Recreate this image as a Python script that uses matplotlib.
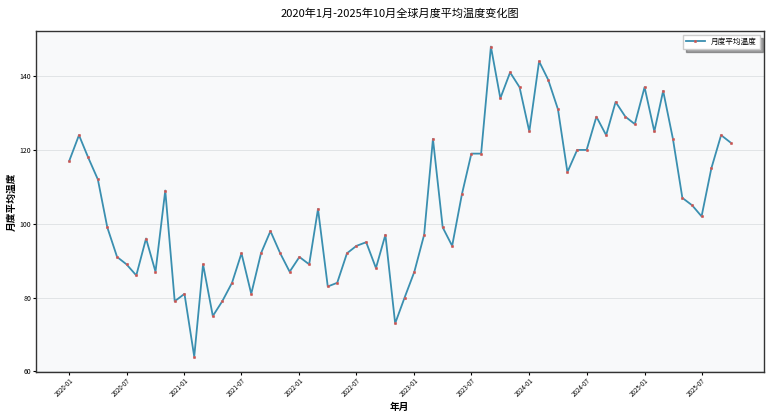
import numpy as np
import pandas as pd
import matplotlib
matplotlib.use('Agg')
import matplotlib.pyplot as plt
import matplotlib.dates as mdates

plt.rcParams['font.family'] = ['Noto Sans CJK SC', 'DejaVu Sans']
plt.rcParams['axes.unicode_minus'] = False

# 月度数据 2020-01 .. 2025-10
months = pd.date_range('2020-01-01', '2025-10-01', freq='MS')
temp_2020 = [117, 124, 118, 112, 99, 91, 89, 86, 96, 87, 109, 79]
temp_2021 = [81, 64, 89, 75, 79, 84, 92, 81, 92, 98, 92, 87]
temp_2022 = [91, 89, 104, 83, 84, 92, 94, 95, 88, 97, 73, 80]
temp_2023 = [87, 97, 123, 99, 94, 108, 119, 119, 148, 134, 141, 137]
temp_2024 = [125, 144, 139, 131, 114, 120, 120, 129, 124, 133, 129, 127]
temp_2025 = [137, 125, 136, 123, 107, 105, 102, 115, 124, 122]
temps = temp_2020 + temp_2021 + temp_2022 + temp_2023 + temp_2024 + temp_2025

fig, ax = plt.subplots(figsize=(7.69, 4.2), dpi=100)
fig.subplots_adjust(left=0.047, right=0.993, top=0.926, bottom=0.114)

ax.set_facecolor('#f8f9fa')
ax.plot(months, temps, color='#3a8fb0', linewidth=1.3, marker='o',
        markersize=1.8, markerfacecolor='#d0504c', markeredgecolor='#c86a68',
        markeredgewidth=0.4, label='月度平均温度')

ax.set_title('2020年1月-2025年10月全球月度平均温度变化图', fontsize=8, pad=10)
ax.set_xlabel('年月', fontsize=7, fontweight='bold', labelpad=2)
ax.set_ylabel('月度平均温度', fontsize=7, fontweight='bold', labelpad=2)

# 每半年一个刻度
ax.set_xticks(months[::6])
ax.xaxis.set_major_formatter(mdates.DateFormatter('%Y-%m'))
ax.tick_params(axis='x', labelsize=4.5, rotation=45, length=2.5, pad=1)
ax.tick_params(axis='y', labelsize=5, length=2.5, pad=1)
for lbl in ax.get_xticklabels():
    lbl.set_ha('right')
    lbl.set_rotation_mode('anchor')

ax.grid(axis='y', color='#dde0e3', linewidth=0.6)
ax.set_axisbelow(True)
for s in ax.spines.values():
    s.set_color('#333333')
    s.set_linewidth(1.0)

ax.legend(loc='upper right', fontsize=5.5, shadow=True, fancybox=False,
          framealpha=1, edgecolor='#cccccc', handlelength=2.5)

fig.savefig('out.png', dpi=100)
